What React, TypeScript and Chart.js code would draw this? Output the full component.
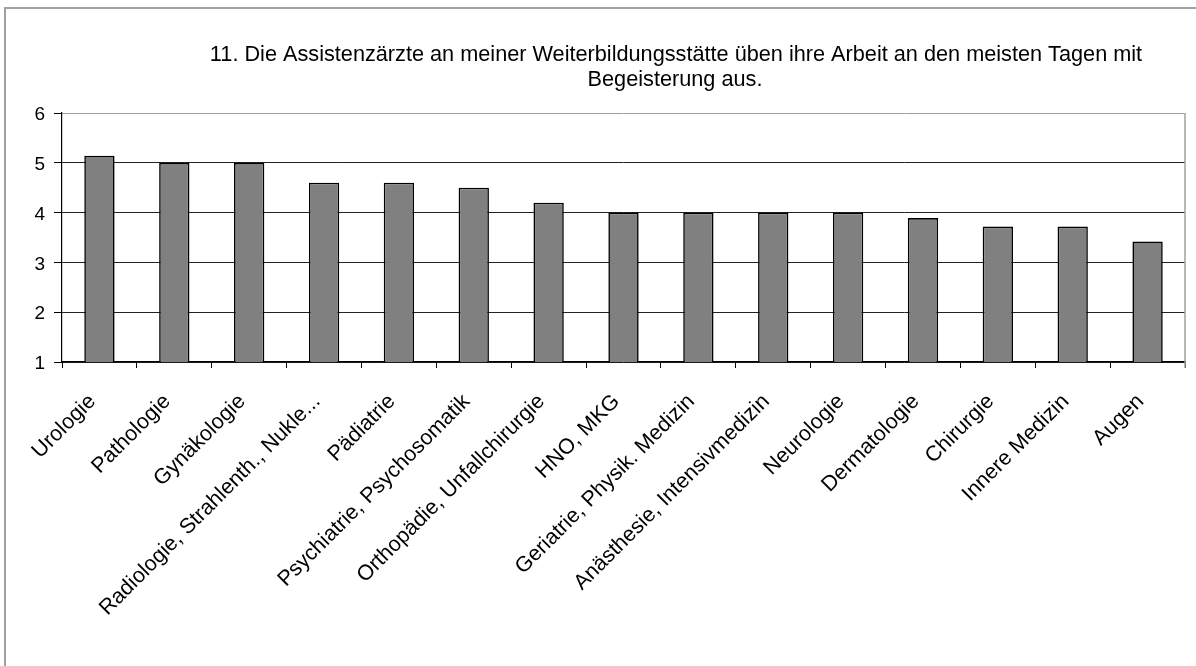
import React, { useEffect, useRef } from "react";
import { Chart, registerables } from "chart.js";

Chart.register(...registerables);

const categories = [
  "Urologie",
  "Pathologie",
  "Gynäkologie",
  "Radiologie, Strahlenth., Nukle...",
  "Pädiatrie",
  "Psychiatrie, Psychosomatik",
  "Orthopädie, Unfallchirurgie",
  "HNO, MKG",
  "Geriatrie, Physik. Medizin",
  "Anästhesie, Intensivmedizin",
  "Neurologie",
  "Dermatologie",
  "Chirurgie",
  "Innere Medizin",
  "Augen",
];

const values = [5.14, 5.0, 5.0, 4.6, 4.6, 4.5, 4.2, 4.0, 4.0, 4.0, 4.0, 3.89, 3.72, 3.72, 3.42];

const titleLines = [
  "11. Die Assistenzärzte an meiner Weiterbildungsstätte üben ihre Arbeit an den meisten Tagen mit",
  "Begeisterung aus.",
];

const yMin = 1;
const yMax = 6;

const FONT = "'Liberation Sans', Arial, sans-serif";

const framePlugin = {
  id: "framePlugin",
  beforeDraw(chart: any) {
    const ctx = chart.ctx;
    ctx.save();
    ctx.fillStyle = "#ffffff";
    ctx.fillRect(0, 0, chart.width, chart.height);
    ctx.strokeStyle = "#a0a0a0";
    ctx.lineWidth = 2;
    ctx.strokeRect(5, 8, chart.width + 20, chart.height + 20);
    ctx.restore();
  },
  afterDatasetsDraw(chart: any) {
    const ctx = chart.ctx;
    const a = chart.chartArea;
    ctx.save();
    ctx.strokeStyle = "#a0a0a0";
    ctx.lineWidth = 1.5;
    ctx.beginPath();
    ctx.moveTo(a.right, a.top);
    ctx.lineTo(a.right, a.bottom + 6);
    ctx.stroke();
    ctx.restore();
  },
  afterDraw(chart: any) {
    const ctx = chart.ctx;
    ctx.save();
    ctx.fillStyle = "#000";
    ctx.font = `21.7px ${FONT}`;
    ctx.textAlign = "center";
    ctx.textBaseline = "alphabetic";
    ctx.fillText(titleLines[0], 676, 61);
    ctx.fillText(titleLines[1], 675, 86);
    ctx.restore();
  },
};

export default function App() {
  const ref = useRef<HTMLCanvasElement | null>(null);

  useEffect(() => {
    if (!ref.current) return;
    const chart = new Chart(ref.current, {
      type: "bar",
      data: {
        labels: categories,
        datasets: [
          {
            data: values,
            backgroundColor: "#808080",
            borderColor: "#000000",
            borderWidth: 1.6,
            categoryPercentage: 1,
            barPercentage: 0.405,
          },
        ],
      },
      options: {
        responsive: false,
        animation: false,
        layout: { padding: { left: 0, top: 113, right: 11, bottom: 0 } },
        plugins: {
          legend: { display: false },
          title: { display: false },
          tooltip: { enabled: false },
        },
        scales: {
          x: {
            grid: {
              offset: true,
              drawOnChartArea: false,
              drawTicks: true,
              tickLength: 6,
              tickColor: "#000",
            },
            border: { display: true, color: "#000", width: 1.2 },
            ticks: {
              autoSkip: false,
              minRotation: 45,
              maxRotation: 45,
              color: "#000",
              font: { family: FONT, size: 21.5 },
              padding: 21,
              labelOffset: -7,
            },
            afterFit(scale: any) {
              scale.height = 304;
            },
          },
          y: {
            min: yMin,
            max: yMax,
            ticks: {
              stepSize: 1,
              color: "#000",
              font: { family: FONT, size: 19 },
              padding: 9,
              labelOffset: 2,
            },
            grid: {
              color: (c: any) => (c.tick && c.tick.value === yMax ? "#a0a0a0" : "#222222"),
              tickColor: "#000",
              tickLength: 8,
              lineWidth: 1,
            },
            border: { display: true, color: "#000", width: 1.2 },
            afterFit(scale: any) {
              scale.width = 62;
            },
          },
        },
      },
      plugins: [framePlugin],
    });
    return () => chart.destroy();
  }, []);

  return (
    <div style={{ position: "fixed", left: 0, top: 0, width: 1196, height: 666, background: "#fff" }}>
      <canvas ref={ref} width={1196} height={666} style={{ display: "block" }} />
    </div>
  );
}
